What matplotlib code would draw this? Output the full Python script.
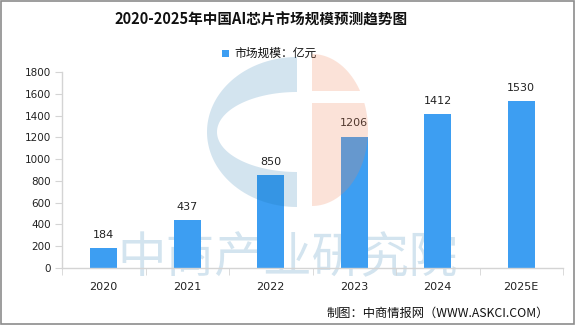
import matplotlib
matplotlib.use("Agg")
import matplotlib.pyplot as plt
from matplotlib.patches import Polygon, Rectangle
import numpy as np

plt.rcParams['font.family'] = ['Noto Sans CJK SC', 'DejaVu Sans']

# Market size data (unit: 100 million yuan)
years = ['2020', '2021', '2022', '2023', '2024', '2025E']
market_size = [184, 437, 850, 1206, 1412, 1530]
y_ticks = [0, 200, 400, 600, 800, 1000, 1200, 1400, 1600, 1800]

title = '2020-2025年中国AI芯片市场规模预测趋势图'
legend_label = '市场规模：亿元'
source_note = '制图：中商情报网（WWW.ASKCI.COM）'
watermark = '中商产业研究院'

W, H = 576, 327
fig = plt.figure(figsize=(W / 100, H / 100), dpi=100)
fig.patch.set_facecolor('white')

ax = fig.add_axes([62 / W, 1 - 268 / H, (563 - 62) / W, (268 - 72) / H])
ax.set_facecolor('none')

bar_color = '#3d9ef2'
axis_color = '#d4d4d4'
x = np.arange(len(years))
bars = ax.bar(x, market_size, width=0.32, color=bar_color, zorder=3)

for xi, v in zip(x, market_size):
    ax.annotate(str(v), (xi, v), xytext=(0, 6), textcoords='offset points',
                ha='center', va='bottom', fontsize=8, family='DejaVu Sans',
                color='#222222', zorder=5)

ax.set_xlim(-0.5, len(years) - 0.5)
ax.set_ylim(0, 1800)
ax.set_yticks(y_ticks)
ax.set_yticklabels([str(t) for t in y_ticks], family='DejaVu Sans', fontsize=7.5)
ax.set_xticks(x)
ax.set_xticklabels(years, family='DejaVu Sans', fontsize=8)
ax.set_xticks(np.arange(len(years) + 1) - 0.5, minor=True)
ax.tick_params(axis='x', which='major', length=0, pad=10, colors='#222222')
ax.tick_params(axis='x', which='minor', length=5, color=axis_color)
ax.tick_params(axis='y', length=5, color=axis_color, pad=3, labelcolor='#222222')
for side in ['top', 'right']:
    ax.spines[side].set_visible(False)
for side in ['left', 'bottom']:
    ax.spines[side].set_color(axis_color)
    ax.spines[side].set_linewidth(1)
    ax.spines[side].set_zorder(4)


def px(xp, yp):
    return (xp / W, 1 - yp / H)


# Watermark text, behind the bars
fig.text(*px(288, 258), watermark, fontsize=35, color='#d3e4ef',
         ha='center', va='center', fontweight='normal', zorder=1)
ax.set_zorder(2)

# Watermark logo, laid over the bars
t = np.linspace(np.pi / 2, 3 * np.pi / 2, 100)
cx, cy = 297, 132
outer = [(cx + 90 * np.cos(a), cy - 75 * np.sin(a)) for a in t]
inner = [(cx + 80 * np.cos(a), cy - 40 * np.sin(a)) for a in t[::-1]]
c_shape = [px(*p) for p in outer + inner]
fig.patches.append(Polygon(c_shape, closed=True, transform=fig.transFigure,
                           facecolor=(23 / 255, 113 / 255, 171 / 255), alpha=0.19,
                           edgecolor='none', zorder=10))

# right half-ellipse split by a horizontal white band
sx, sy, rx, ry = 312, 130, 56, 76
top_cut, bot_cut = 91, 103


def band_edge(yline):
    dy = (yline - sy) / ry
    return sx + rx * np.sqrt(max(0.0, 1 - dy * dy))


t_up = np.linspace(np.pi / 2, np.arcsin((sy - top_cut) / ry), 60)
upper_poly = [px(sx, top_cut)] + \
    [px(sx + rx * np.cos(a), sy - ry * np.sin(a)) for a in t_up[::-1]]
t_lo = np.linspace(np.arcsin((sy - bot_cut) / ry), -np.pi / 2, 80)
lower_poly = [px(sx, bot_cut)] + \
    [px(sx + rx * np.cos(a), sy - ry * np.sin(a)) for a in t_lo]
salmon = (242 / 255, 133 / 255, 90 / 255)
for poly in (upper_poly, lower_poly):
    fig.patches.append(Polygon(poly, closed=True, transform=fig.transFigure,
                               facecolor=salmon, alpha=0.23, edgecolor='none',
                               zorder=10))

# Title, legend and source
fig.text(*px(261, 20), title, fontsize=10.5, fontweight='bold',
         ha='center', va='center', color='#111111')
fig.patches.append(Rectangle(px(222, 57), 7 / W, 7 / H, transform=fig.transFigure,
                             facecolor=bar_color, edgecolor='none'))
fig.text(*px(234, 53), legend_label, fontsize=8.5, ha='left', va='center',
         color='#111111')
fig.text(*px(549, 313), source_note, fontsize=8.8, ha='right', va='center',
         color='#111111')

# Outer frame
fig.patches.append(Rectangle((0.5 / W, 1 - 324 / H), 573.5 / W, 323.5 / H,
                             transform=fig.transFigure, facecolor='none',
                             edgecolor='#8c8c8c', linewidth=1.2, zorder=20))

fig.savefig('out.png', dpi=100)
